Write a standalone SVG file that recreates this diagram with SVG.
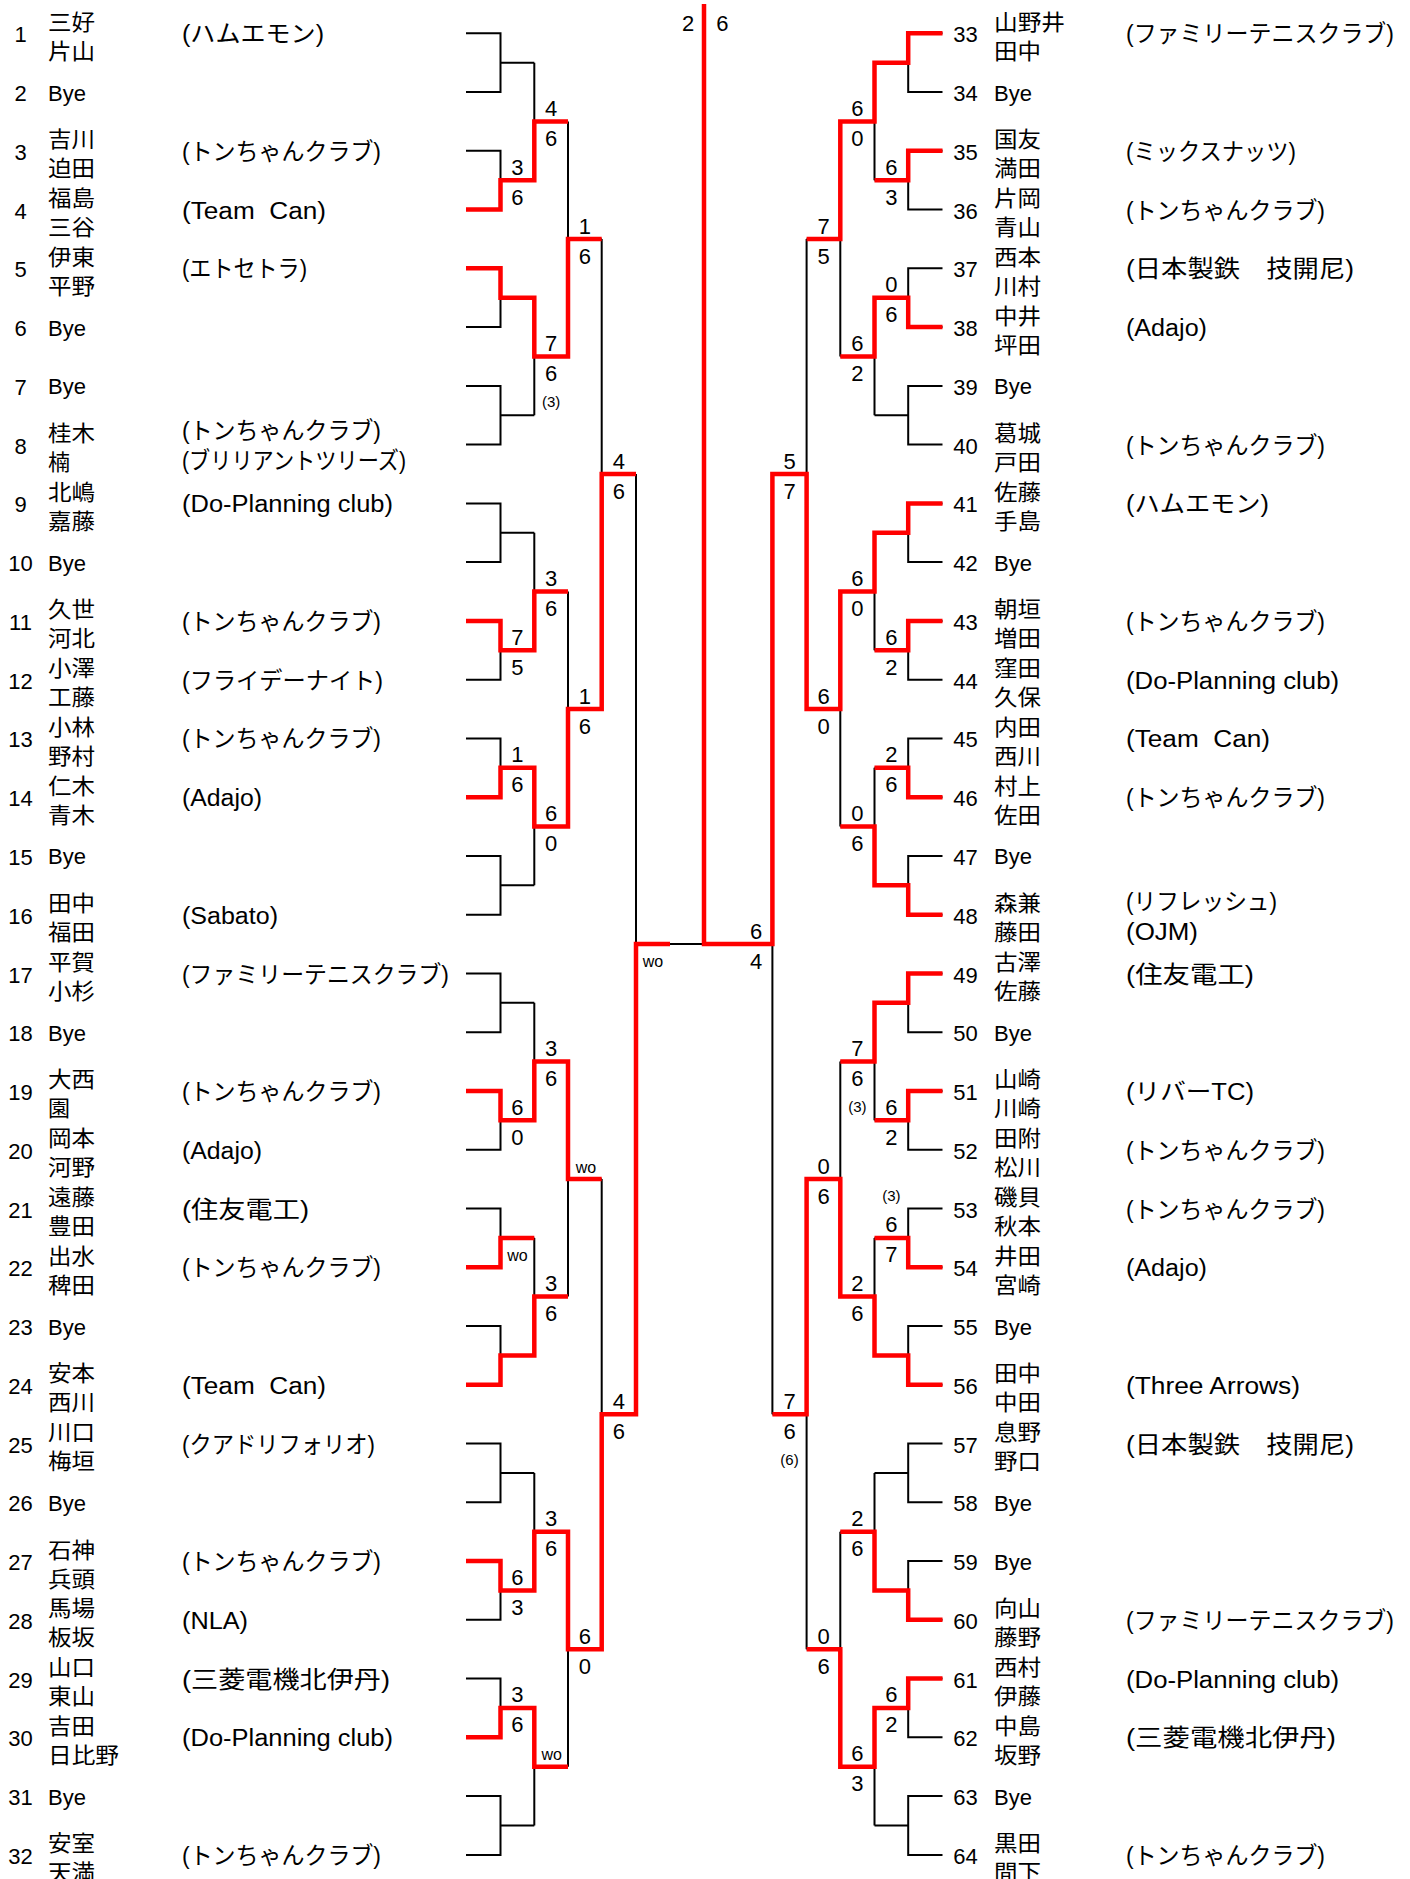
<svg xmlns="http://www.w3.org/2000/svg" width="1410" height="1879" viewBox="0 0 1410 1879">
<style>
.num{font-family:"Liberation Sans","Noto Sans CJK JP",sans-serif;font-size:22px;fill:#000}
.c{text-anchor:middle}
.nm{font-family:"Noto Sans CJK JP",sans-serif;font-size:22px;fill:#000}
.tm{font-family:"Liberation Sans","Noto Sans CJK JP",sans-serif;font-size:23.5px;fill:#000}
.sc{font-family:"Liberation Sans",sans-serif;font-size:22px;text-anchor:middle;fill:#000}
.sm{font-family:"Liberation Sans",sans-serif;font-size:15px;text-anchor:middle;fill:#000}
.wo{font-family:"Liberation Sans",sans-serif;font-size:16px;text-anchor:middle;fill:#000}
.bk{fill:none;stroke:#000;stroke-width:2}
.rd{fill:none;stroke:#ff0000;stroke-width:4.5;stroke-linejoin:miter}
</style>
<rect width="1410" height="1879" fill="#fff"/>
<g id="connectors">
<path class="bk" d="M466,33.3H500.5V92.1H466M500.5,62.7H534.3M466,150.8H500.5V209.6H466M500.5,180.2H534.3M466,268.3H500.5V327.1H466M500.5,297.7H534.3M466,385.9H500.5V444.6H466M500.5,415.2H534.3M466,503.4H500.5V562.1H466M500.5,532.8H534.3M466,620.9H500.5V679.7H466M500.5,650.3H534.3M466,738.4H500.5V797.2H466M500.5,767.8H534.3M466,855.9H500.5V914.7H466M500.5,885.3H534.3M466,973.5H500.5V1032.2H466M500.5,1002.8H534.3M466,1091H500.5V1149.7H466M500.5,1120.3H534.3M466,1208.5H500.5V1267.3H466M500.5,1237.9H534.3M466,1326H500.5V1384.8H466M500.5,1355.4H534.3M466,1443.5H500.5V1502.3H466M500.5,1472.9H534.3M466,1561.1H500.5V1619.8H466M500.5,1590.4H534.3M466,1678.6H500.5V1737.3H466M500.5,1707.9H534.3M466,1796.1H500.5V1854.9H466M500.5,1825.5H534.3"/>
<path class="bk" d="M534.3,62.7V180.2M534.3,121.4H568M534.3,297.7V415.2M534.3,356.5H568M534.3,532.8V650.3M534.3,591.5H568M534.3,767.8V885.3M534.3,826.6H568M534.3,1002.8V1120.3M534.3,1061.6H568M534.3,1237.9V1355.4M534.3,1296.6H568M534.3,1472.9V1590.4M534.3,1531.7H568M534.3,1707.9V1825.5M534.3,1766.7H568"/>
<path class="bk" d="M568,121.4V356.5M568,239H601.7M568,591.5V826.6M568,709H601.7M568,1061.6V1296.6M568,1179.1H601.7M568,1531.7V1766.7M568,1649.2H601.7M601.7,239V709M601.7,474H636M601.7,1179.1V1649.2M601.7,1414.2H636M636,474V1414.2M636,944.1H704"/>
<path class="bk" d="M942.5,33.3H908.2V92.1H942.5M908.2,62.7H874.5M942.5,150.8H908.2V209.6H942.5M908.2,180.2H874.5M942.5,268.3H908.2V327.1H942.5M908.2,297.7H874.5M942.5,385.9H908.2V444.6H942.5M908.2,415.2H874.5M942.5,503.4H908.2V562.1H942.5M908.2,532.8H874.5M942.5,620.9H908.2V679.7H942.5M908.2,650.3H874.5M942.5,738.4H908.2V797.2H942.5M908.2,767.8H874.5M942.5,855.9H908.2V914.7H942.5M908.2,885.3H874.5M942.5,973.5H908.2V1032.2H942.5M908.2,1002.8H874.5M942.5,1091H908.2V1149.7H942.5M908.2,1120.3H874.5M942.5,1208.5H908.2V1267.3H942.5M908.2,1237.9H874.5M942.5,1326H908.2V1384.8H942.5M908.2,1355.4H874.5M942.5,1443.5H908.2V1502.3H942.5M908.2,1472.9H874.5M942.5,1561.1H908.2V1619.8H942.5M908.2,1590.4H874.5M942.5,1678.6H908.2V1737.3H942.5M908.2,1707.9H874.5M942.5,1796.1H908.2V1854.9H942.5M908.2,1825.5H874.5"/>
<path class="bk" d="M874.5,62.7V180.2M874.5,121.4H840.3M874.5,297.7V415.2M874.5,356.5H840.3M874.5,532.8V650.3M874.5,591.5H840.3M874.5,767.8V885.3M874.5,826.6H840.3M874.5,1002.8V1120.3M874.5,1061.6H840.3M874.5,1237.9V1355.4M874.5,1296.6H840.3M874.5,1472.9V1590.4M874.5,1531.7H840.3M874.5,1707.9V1825.5M874.5,1766.7H840.3"/>
<path class="bk" d="M840.3,121.4V356.5M840.3,239H806.6M840.3,591.5V826.6M840.3,709H806.6M840.3,1061.6V1296.6M840.3,1179.1H806.6M840.3,1531.7V1766.7M840.3,1649.2H806.6M806.6,239V709M806.6,474H772.4M806.6,1179.1V1649.2M806.6,1414.2H772.4M772.4,474V1414.2M772.4,944.1H704"/>
<path class="rd" d="M466,209.6H500.5V180.2H534.3V121.4H568"/>
<path class="rd" d="M466,268.3H500.5V297.7H534.3V356.5H568V239H601.7"/>
<path class="rd" d="M466,620.9H500.5V650.3H534.3V591.5H568"/>
<path class="rd" d="M466,797.2H500.5V767.8H534.3V826.6H568V709H601.7V474H636"/>
<path class="rd" d="M466,1091H500.5V1120.3H534.3V1061.6H568V1179.1H601.7"/>
<path class="rd" d="M466,1267.3H500.5V1237.9H534.3"/>
<path class="rd" d="M466,1384.8H500.5V1355.4H534.3V1296.6H568"/>
<path class="rd" d="M466,1561.1H500.5V1590.4H534.3V1531.7H568V1649.2H601.7V1414.2H636V944.1H670"/>
<path class="rd" d="M466,1737.3H500.5V1707.9H534.3V1766.7H568"/>
<path class="rd" d="M942.5,33.3H908.2V62.7H874.5V121.4H840.3V239H806.6"/>
<path class="rd" d="M942.5,150.8H908.2V180.2H874.5"/>
<path class="rd" d="M942.5,327.1H908.2V297.7H874.5V356.5H840.3"/>
<path class="rd" d="M942.5,503.4H908.2V532.8H874.5V591.5H840.3V709H806.6V474H772.4V944.1H704V4"/>
<path class="rd" d="M942.5,620.9H908.2V650.3H874.5"/>
<path class="rd" d="M942.5,797.2H908.2V767.8H874.5"/>
<path class="rd" d="M942.5,914.7H908.2V885.3H874.5V826.6H840.3"/>
<path class="rd" d="M942.5,973.5H908.2V1002.8H874.5V1061.6H840.3"/>
<path class="rd" d="M942.5,1091H908.2V1120.3H874.5"/>
<path class="rd" d="M942.5,1267.3H908.2V1237.9H874.5"/>
<path class="rd" d="M942.5,1384.8H908.2V1355.4H874.5V1296.6H840.3V1179.1H806.6V1414.2H772.4"/>
<path class="rd" d="M942.5,1619.8H908.2V1590.4H874.5V1531.7H840.3"/>
<path class="rd" d="M942.5,1678.6H908.2V1707.9H874.5V1766.7H840.3V1649.2H806.6"/>
</g>
<g id="scores">
<text class="sc" x="688" y="30.5">2</text><text class="sc" x="722.4" y="30.5">6</text>
<text class="sc" x="517.4" y="174.7">3</text><text class="sc" x="517.4" y="204.7">6</text>
<text class="sc" x="517.4" y="644.8">7</text><text class="sc" x="517.4" y="674.8">5</text>
<text class="sc" x="517.4" y="762.3">1</text><text class="sc" x="517.4" y="792.3">6</text>
<text class="sc" x="517.4" y="1114.8">6</text><text class="sc" x="517.4" y="1144.8">0</text>
<text class="wo" x="517.4" y="1261">wo</text>
<text class="sc" x="517.4" y="1584.9">6</text><text class="sc" x="517.4" y="1614.9">3</text>
<text class="sc" x="517.4" y="1702.4">3</text><text class="sc" x="517.4" y="1732.4">6</text>
<text class="sc" x="551.2" y="115.9">4</text><text class="sc" x="551.2" y="145.9">6</text>
<text class="sc" x="551.2" y="351">7</text><text class="sc" x="551.2" y="381">6</text><text class="sm" x="551.2" y="407">(3)</text>
<text class="sc" x="551.2" y="586">3</text><text class="sc" x="551.2" y="616">6</text>
<text class="sc" x="551.2" y="821.1">6</text><text class="sc" x="551.2" y="851.1">0</text>
<text class="sc" x="551.2" y="1056.1">3</text><text class="sc" x="551.2" y="1086.1">6</text>
<text class="sc" x="551.2" y="1291.1">3</text><text class="sc" x="551.2" y="1321.1">6</text>
<text class="sc" x="551.2" y="1526.2">3</text><text class="sc" x="551.2" y="1556.2">6</text>
<text class="wo" x="551.7" y="1760">wo</text>
<text class="sc" x="584.9" y="233.5">1</text><text class="sc" x="584.9" y="263.5">6</text>
<text class="sc" x="584.9" y="703.5">1</text><text class="sc" x="584.9" y="733.5">6</text>
<text class="wo" x="586" y="1172.5">wo</text>
<text class="sc" x="584.9" y="1643.7">6</text><text class="sc" x="584.9" y="1673.7">0</text>
<text class="sc" x="618.9" y="468.5">4</text><text class="sc" x="618.9" y="498.5">6</text>
<text class="sc" x="618.9" y="1408.7">4</text><text class="sc" x="618.9" y="1438.7">6</text>
<text class="wo" x="653" y="967">wo</text>
<text class="sc" x="891.4" y="174.7">6</text><text class="sc" x="891.4" y="204.7">3</text>
<text class="sc" x="891.4" y="292.2">0</text><text class="sc" x="891.4" y="322.2">6</text>
<text class="sc" x="891.4" y="644.8">6</text><text class="sc" x="891.4" y="674.8">2</text>
<text class="sc" x="891.4" y="762.3">2</text><text class="sc" x="891.4" y="792.3">6</text>
<text class="sc" x="891.4" y="1114.8">6</text><text class="sc" x="891.4" y="1144.8">2</text>
<text class="sm" x="891.4" y="1200.5">(3)</text><text class="sc" x="891.4" y="1232.4">6</text><text class="sc" x="891.4" y="1262.4">7</text>
<text class="sc" x="891.4" y="1702.4">6</text><text class="sc" x="891.4" y="1732.4">2</text>
<text class="sc" x="857.4" y="115.9">6</text><text class="sc" x="857.4" y="145.9">0</text>
<text class="sc" x="857.4" y="351">6</text><text class="sc" x="857.4" y="381">2</text>
<text class="sc" x="857.4" y="586">6</text><text class="sc" x="857.4" y="616">0</text>
<text class="sc" x="857.4" y="821.1">0</text><text class="sc" x="857.4" y="851.1">6</text>
<text class="sc" x="857.4" y="1056.1">7</text><text class="sc" x="857.4" y="1086.1">6</text><text class="sm" x="857.4" y="1112">(3)</text>
<text class="sc" x="857.4" y="1291.1">2</text><text class="sc" x="857.4" y="1321.1">6</text>
<text class="sc" x="857.4" y="1526.2">2</text><text class="sc" x="857.4" y="1556.2">6</text>
<text class="sc" x="857.4" y="1761.2">6</text><text class="sc" x="857.4" y="1791.2">3</text>
<text class="sc" x="823.5" y="233.5">7</text><text class="sc" x="823.5" y="263.5">5</text>
<text class="sc" x="823.5" y="703.5">6</text><text class="sc" x="823.5" y="733.5">0</text>
<text class="sc" x="823.5" y="1173.6">0</text><text class="sc" x="823.5" y="1203.6">6</text>
<text class="sc" x="823.5" y="1643.7">0</text><text class="sc" x="823.5" y="1673.7">6</text>
<text class="sc" x="789.5" y="468.5">5</text><text class="sc" x="789.5" y="498.5">7</text>
<text class="sc" x="789.5" y="1408.7">7</text><text class="sc" x="789.5" y="1438.7">6</text><text class="sm" x="789.5" y="1464.5">(6)</text>
<text class="sc" x="756" y="938.6">6</text><text class="sc" x="756" y="968.6">4</text>
</g>
<g id="p1" transform="translate(0,33.3)"><text class="num c" x="20.5" y="9">1</text><text class="nm" x="48" y="-3.6" textLength="47" lengthAdjust="spacingAndGlyphs">三好</text><text class="nm" x="48" y="25.4" textLength="47" lengthAdjust="spacingAndGlyphs">片山</text><text class="tm" x="182" y="9" textLength="142" lengthAdjust="spacingAndGlyphs">(ハムエモン)</text></g>
<g id="p2" transform="translate(0,92.1)"><text class="num c" x="20.5" y="9">2</text><text class="num" x="48" y="8.5">Bye</text></g>
<g id="p3" transform="translate(0,150.8)"><text class="num c" x="20.5" y="9">3</text><text class="nm" x="48" y="-3.6" textLength="47" lengthAdjust="spacingAndGlyphs">吉川</text><text class="nm" x="48" y="25.4" textLength="47" lengthAdjust="spacingAndGlyphs">迫田</text><text class="tm" x="182" y="9" textLength="199" lengthAdjust="spacingAndGlyphs">(トンちゃんクラブ)</text></g>
<g id="p4" transform="translate(0,209.6)"><text class="num c" x="20.5" y="9">4</text><text class="nm" x="48" y="-3.6" textLength="47" lengthAdjust="spacingAndGlyphs">福島</text><text class="nm" x="48" y="25.4" textLength="47" lengthAdjust="spacingAndGlyphs">三谷</text><text class="tm" x="182" y="9" textLength="144" lengthAdjust="spacingAndGlyphs">(Team&#160;&#160;Can)</text></g>
<g id="p5" transform="translate(0,268.3)"><text class="num c" x="20.5" y="9">5</text><text class="nm" x="48" y="-3.6" textLength="47" lengthAdjust="spacingAndGlyphs">伊東</text><text class="nm" x="48" y="25.4" textLength="47" lengthAdjust="spacingAndGlyphs">平野</text><text class="tm" x="182" y="9" textLength="125" lengthAdjust="spacingAndGlyphs">(エトセトラ)</text></g>
<g id="p6" transform="translate(0,327.1)"><text class="num c" x="20.5" y="9">6</text><text class="num" x="48" y="8.5">Bye</text></g>
<g id="p7" transform="translate(0,385.9)"><text class="num c" x="20.5" y="9">7</text><text class="num" x="48" y="8.5">Bye</text></g>
<g id="p8" transform="translate(0,444.6)"><text class="num c" x="20.5" y="9">8</text><text class="nm" x="48" y="-3.6" textLength="47" lengthAdjust="spacingAndGlyphs">桂木</text><text class="nm" x="48" y="25.4">楠</text><text class="tm" x="182" y="-6" textLength="199" lengthAdjust="spacingAndGlyphs">(トンちゃんクラブ)</text><text class="tm" x="182" y="24" textLength="224" lengthAdjust="spacingAndGlyphs">(ブリリアントツリーズ)</text></g>
<g id="p9" transform="translate(0,503.4)"><text class="num c" x="20.5" y="9">9</text><text class="nm" x="48" y="-3.6" textLength="47" lengthAdjust="spacingAndGlyphs">北嶋</text><text class="nm" x="48" y="25.4" textLength="47" lengthAdjust="spacingAndGlyphs">嘉藤</text><text class="tm" x="182" y="9" textLength="211" lengthAdjust="spacingAndGlyphs">(Do-Planning club)</text></g>
<g id="p10" transform="translate(0,562.1)"><text class="num c" x="20.5" y="9">10</text><text class="num" x="48" y="8.5">Bye</text></g>
<g id="p11" transform="translate(0,620.9)"><text class="num c" x="20.5" y="9">11</text><text class="nm" x="48" y="-3.6" textLength="47" lengthAdjust="spacingAndGlyphs">久世</text><text class="nm" x="48" y="25.4" textLength="47" lengthAdjust="spacingAndGlyphs">河北</text><text class="tm" x="182" y="9" textLength="199" lengthAdjust="spacingAndGlyphs">(トンちゃんクラブ)</text></g>
<g id="p12" transform="translate(0,679.7)"><text class="num c" x="20.5" y="9">12</text><text class="nm" x="48" y="-3.6" textLength="47" lengthAdjust="spacingAndGlyphs">小澤</text><text class="nm" x="48" y="25.4" textLength="47" lengthAdjust="spacingAndGlyphs">工藤</text><text class="tm" x="182" y="9" textLength="201" lengthAdjust="spacingAndGlyphs">(フライデーナイト)</text></g>
<g id="p13" transform="translate(0,738.4)"><text class="num c" x="20.5" y="9">13</text><text class="nm" x="48" y="-3.6" textLength="47" lengthAdjust="spacingAndGlyphs">小林</text><text class="nm" x="48" y="25.4" textLength="47" lengthAdjust="spacingAndGlyphs">野村</text><text class="tm" x="182" y="9" textLength="199" lengthAdjust="spacingAndGlyphs">(トンちゃんクラブ)</text></g>
<g id="p14" transform="translate(0,797.2)"><text class="num c" x="20.5" y="9">14</text><text class="nm" x="48" y="-3.6" textLength="47" lengthAdjust="spacingAndGlyphs">仁木</text><text class="nm" x="48" y="25.4" textLength="47" lengthAdjust="spacingAndGlyphs">青木</text><text class="tm" x="182" y="9" textLength="80" lengthAdjust="spacingAndGlyphs">(Adajo)</text></g>
<g id="p15" transform="translate(0,855.9)"><text class="num c" x="20.5" y="9">15</text><text class="num" x="48" y="8.5">Bye</text></g>
<g id="p16" transform="translate(0,914.7)"><text class="num c" x="20.5" y="9">16</text><text class="nm" x="48" y="-3.6" textLength="47" lengthAdjust="spacingAndGlyphs">田中</text><text class="nm" x="48" y="25.4" textLength="47" lengthAdjust="spacingAndGlyphs">福田</text><text class="tm" x="182" y="9" textLength="96" lengthAdjust="spacingAndGlyphs">(Sabato)</text></g>
<g id="p17" transform="translate(0,973.5)"><text class="num c" x="20.5" y="9">17</text><text class="nm" x="48" y="-3.6" textLength="47" lengthAdjust="spacingAndGlyphs">平賀</text><text class="nm" x="48" y="25.4" textLength="47" lengthAdjust="spacingAndGlyphs">小杉</text><text class="tm" x="182" y="9" textLength="267" lengthAdjust="spacingAndGlyphs">(ファミリーテニスクラブ)</text></g>
<g id="p18" transform="translate(0,1032.2)"><text class="num c" x="20.5" y="9">18</text><text class="num" x="48" y="8.5">Bye</text></g>
<g id="p19" transform="translate(0,1091)"><text class="num c" x="20.5" y="9">19</text><text class="nm" x="48" y="-3.6" textLength="47" lengthAdjust="spacingAndGlyphs">大西</text><text class="nm" x="48" y="25.4">園</text><text class="tm" x="182" y="9" textLength="199" lengthAdjust="spacingAndGlyphs">(トンちゃんクラブ)</text></g>
<g id="p20" transform="translate(0,1149.7)"><text class="num c" x="20.5" y="9">20</text><text class="nm" x="48" y="-3.6" textLength="47" lengthAdjust="spacingAndGlyphs">岡本</text><text class="nm" x="48" y="25.4" textLength="47" lengthAdjust="spacingAndGlyphs">河野</text><text class="tm" x="182" y="9" textLength="80" lengthAdjust="spacingAndGlyphs">(Adajo)</text></g>
<g id="p21" transform="translate(0,1208.5)"><text class="num c" x="20.5" y="9">21</text><text class="nm" x="48" y="-3.6" textLength="47" lengthAdjust="spacingAndGlyphs">遠藤</text><text class="nm" x="48" y="25.4" textLength="47" lengthAdjust="spacingAndGlyphs">豊田</text><text class="tm" x="182" y="9" textLength="127" lengthAdjust="spacingAndGlyphs">(住友電工)</text></g>
<g id="p22" transform="translate(0,1267.3)"><text class="num c" x="20.5" y="9">22</text><text class="nm" x="48" y="-3.6" textLength="47" lengthAdjust="spacingAndGlyphs">出水</text><text class="nm" x="48" y="25.4" textLength="47" lengthAdjust="spacingAndGlyphs">稗田</text><text class="tm" x="182" y="9" textLength="199" lengthAdjust="spacingAndGlyphs">(トンちゃんクラブ)</text></g>
<g id="p23" transform="translate(0,1326)"><text class="num c" x="20.5" y="9">23</text><text class="num" x="48" y="8.5">Bye</text></g>
<g id="p24" transform="translate(0,1384.8)"><text class="num c" x="20.5" y="9">24</text><text class="nm" x="48" y="-3.6" textLength="47" lengthAdjust="spacingAndGlyphs">安本</text><text class="nm" x="48" y="25.4" textLength="47" lengthAdjust="spacingAndGlyphs">西川</text><text class="tm" x="182" y="9" textLength="144" lengthAdjust="spacingAndGlyphs">(Team&#160;&#160;Can)</text></g>
<g id="p25" transform="translate(0,1443.5)"><text class="num c" x="20.5" y="9">25</text><text class="nm" x="48" y="-3.6" textLength="47" lengthAdjust="spacingAndGlyphs">川口</text><text class="nm" x="48" y="25.4" textLength="47" lengthAdjust="spacingAndGlyphs">梅垣</text><text class="tm" x="182" y="9" textLength="193" lengthAdjust="spacingAndGlyphs">(クアドリフォリオ)</text></g>
<g id="p26" transform="translate(0,1502.3)"><text class="num c" x="20.5" y="9">26</text><text class="num" x="48" y="8.5">Bye</text></g>
<g id="p27" transform="translate(0,1561.1)"><text class="num c" x="20.5" y="9">27</text><text class="nm" x="48" y="-3.6" textLength="47" lengthAdjust="spacingAndGlyphs">石神</text><text class="nm" x="48" y="25.4" textLength="47" lengthAdjust="spacingAndGlyphs">兵頭</text><text class="tm" x="182" y="9" textLength="199" lengthAdjust="spacingAndGlyphs">(トンちゃんクラブ)</text></g>
<g id="p28" transform="translate(0,1619.8)"><text class="num c" x="20.5" y="9">28</text><text class="nm" x="48" y="-3.6" textLength="47" lengthAdjust="spacingAndGlyphs">馬場</text><text class="nm" x="48" y="25.4" textLength="47" lengthAdjust="spacingAndGlyphs">板坂</text><text class="tm" x="182" y="9" textLength="66" lengthAdjust="spacingAndGlyphs">(NLA)</text></g>
<g id="p29" transform="translate(0,1678.6)"><text class="num c" x="20.5" y="9">29</text><text class="nm" x="48" y="-3.6" textLength="47" lengthAdjust="spacingAndGlyphs">山口</text><text class="nm" x="48" y="25.4" textLength="47" lengthAdjust="spacingAndGlyphs">東山</text><text class="tm" x="182" y="9" textLength="208" lengthAdjust="spacingAndGlyphs">(三菱電機北伊丹)</text></g>
<g id="p30" transform="translate(0,1737.3)"><text class="num c" x="20.5" y="9">30</text><text class="nm" x="48" y="-3.6" textLength="47" lengthAdjust="spacingAndGlyphs">吉田</text><text class="nm" x="48" y="25.4" textLength="71" lengthAdjust="spacingAndGlyphs">日比野</text><text class="tm" x="182" y="9" textLength="211" lengthAdjust="spacingAndGlyphs">(Do-Planning club)</text></g>
<g id="p31" transform="translate(0,1796.1)"><text class="num c" x="20.5" y="9">31</text><text class="num" x="48" y="8.5">Bye</text></g>
<g id="p32" transform="translate(0,1854.9)"><text class="num c" x="20.5" y="9">32</text><text class="nm" x="48" y="-3.6" textLength="47" lengthAdjust="spacingAndGlyphs">安室</text><text class="nm" x="48" y="25.4" textLength="47" lengthAdjust="spacingAndGlyphs">天満</text><text class="tm" x="182" y="9" textLength="199" lengthAdjust="spacingAndGlyphs">(トンちゃんクラブ)</text></g>
<g id="p33" transform="translate(0,33.3)"><text class="num c" x="965.4" y="9">33</text><text class="nm" x="994" y="-3.6" textLength="71" lengthAdjust="spacingAndGlyphs">山野井</text><text class="nm" x="994" y="25.4" textLength="47" lengthAdjust="spacingAndGlyphs">田中</text><text class="tm" x="1126" y="9" textLength="268" lengthAdjust="spacingAndGlyphs">(ファミリーテニスクラブ)</text></g>
<g id="p34" transform="translate(0,92.1)"><text class="num c" x="965.4" y="9">34</text><text class="num" x="994" y="8.5">Bye</text></g>
<g id="p35" transform="translate(0,150.8)"><text class="num c" x="965.4" y="9">35</text><text class="nm" x="994" y="-3.6" textLength="47" lengthAdjust="spacingAndGlyphs">国友</text><text class="nm" x="994" y="25.4" textLength="47" lengthAdjust="spacingAndGlyphs">満田</text><text class="tm" x="1126" y="9" textLength="170" lengthAdjust="spacingAndGlyphs">(ミックスナッツ)</text></g>
<g id="p36" transform="translate(0,209.6)"><text class="num c" x="965.4" y="9">36</text><text class="nm" x="994" y="-3.6" textLength="47" lengthAdjust="spacingAndGlyphs">片岡</text><text class="nm" x="994" y="25.4" textLength="47" lengthAdjust="spacingAndGlyphs">青山</text><text class="tm" x="1126" y="9" textLength="199" lengthAdjust="spacingAndGlyphs">(トンちゃんクラブ)</text></g>
<g id="p37" transform="translate(0,268.3)"><text class="num c" x="965.4" y="9">37</text><text class="nm" x="994" y="-3.6" textLength="47" lengthAdjust="spacingAndGlyphs">西本</text><text class="nm" x="994" y="25.4" textLength="47" lengthAdjust="spacingAndGlyphs">川村</text><text class="tm" x="1126" y="9" textLength="228" lengthAdjust="spacingAndGlyphs">(日本製鉄　技開尼)</text></g>
<g id="p38" transform="translate(0,327.1)"><text class="num c" x="965.4" y="9">38</text><text class="nm" x="994" y="-3.6" textLength="47" lengthAdjust="spacingAndGlyphs">中井</text><text class="nm" x="994" y="25.4" textLength="47" lengthAdjust="spacingAndGlyphs">坪田</text><text class="tm" x="1126" y="9" textLength="81" lengthAdjust="spacingAndGlyphs">(Adajo)</text></g>
<g id="p39" transform="translate(0,385.9)"><text class="num c" x="965.4" y="9">39</text><text class="num" x="994" y="8.5">Bye</text></g>
<g id="p40" transform="translate(0,444.6)"><text class="num c" x="965.4" y="9">40</text><text class="nm" x="994" y="-3.6" textLength="47" lengthAdjust="spacingAndGlyphs">葛城</text><text class="nm" x="994" y="25.4" textLength="47" lengthAdjust="spacingAndGlyphs">戸田</text><text class="tm" x="1126" y="9" textLength="199" lengthAdjust="spacingAndGlyphs">(トンちゃんクラブ)</text></g>
<g id="p41" transform="translate(0,503.4)"><text class="num c" x="965.4" y="9">41</text><text class="nm" x="994" y="-3.6" textLength="47" lengthAdjust="spacingAndGlyphs">佐藤</text><text class="nm" x="994" y="25.4" textLength="47" lengthAdjust="spacingAndGlyphs">手島</text><text class="tm" x="1126" y="9" textLength="143" lengthAdjust="spacingAndGlyphs">(ハムエモン)</text></g>
<g id="p42" transform="translate(0,562.1)"><text class="num c" x="965.4" y="9">42</text><text class="num" x="994" y="8.5">Bye</text></g>
<g id="p43" transform="translate(0,620.9)"><text class="num c" x="965.4" y="9">43</text><text class="nm" x="994" y="-3.6" textLength="47" lengthAdjust="spacingAndGlyphs">朝垣</text><text class="nm" x="994" y="25.4" textLength="47" lengthAdjust="spacingAndGlyphs">増田</text><text class="tm" x="1126" y="9" textLength="199" lengthAdjust="spacingAndGlyphs">(トンちゃんクラブ)</text></g>
<g id="p44" transform="translate(0,679.7)"><text class="num c" x="965.4" y="9">44</text><text class="nm" x="994" y="-3.6" textLength="47" lengthAdjust="spacingAndGlyphs">窪田</text><text class="nm" x="994" y="25.4" textLength="47" lengthAdjust="spacingAndGlyphs">久保</text><text class="tm" x="1126" y="9" textLength="213" lengthAdjust="spacingAndGlyphs">(Do-Planning club)</text></g>
<g id="p45" transform="translate(0,738.4)"><text class="num c" x="965.4" y="9">45</text><text class="nm" x="994" y="-3.6" textLength="47" lengthAdjust="spacingAndGlyphs">内田</text><text class="nm" x="994" y="25.4" textLength="47" lengthAdjust="spacingAndGlyphs">西川</text><text class="tm" x="1126" y="9" textLength="144" lengthAdjust="spacingAndGlyphs">(Team&#160;&#160;Can)</text></g>
<g id="p46" transform="translate(0,797.2)"><text class="num c" x="965.4" y="9">46</text><text class="nm" x="994" y="-3.6" textLength="47" lengthAdjust="spacingAndGlyphs">村上</text><text class="nm" x="994" y="25.4" textLength="47" lengthAdjust="spacingAndGlyphs">佐田</text><text class="tm" x="1126" y="9" textLength="199" lengthAdjust="spacingAndGlyphs">(トンちゃんクラブ)</text></g>
<g id="p47" transform="translate(0,855.9)"><text class="num c" x="965.4" y="9">47</text><text class="num" x="994" y="8.5">Bye</text></g>
<g id="p48" transform="translate(0,914.7)"><text class="num c" x="965.4" y="9">48</text><text class="nm" x="994" y="-3.6" textLength="47" lengthAdjust="spacingAndGlyphs">森兼</text><text class="nm" x="994" y="25.4" textLength="47" lengthAdjust="spacingAndGlyphs">藤田</text><text class="tm" x="1126" y="-4.3" textLength="151" lengthAdjust="spacingAndGlyphs">(リフレッシュ)</text><text class="tm" x="1126" y="25.3" textLength="72" lengthAdjust="spacingAndGlyphs">(OJM)</text></g>
<g id="p49" transform="translate(0,973.5)"><text class="num c" x="965.4" y="9">49</text><text class="nm" x="994" y="-3.6" textLength="47" lengthAdjust="spacingAndGlyphs">古澤</text><text class="nm" x="994" y="25.4" textLength="47" lengthAdjust="spacingAndGlyphs">佐藤</text><text class="tm" x="1126" y="9" textLength="128" lengthAdjust="spacingAndGlyphs">(住友電工)</text></g>
<g id="p50" transform="translate(0,1032.2)"><text class="num c" x="965.4" y="9">50</text><text class="num" x="994" y="8.5">Bye</text></g>
<g id="p51" transform="translate(0,1091)"><text class="num c" x="965.4" y="9">51</text><text class="nm" x="994" y="-3.6" textLength="47" lengthAdjust="spacingAndGlyphs">山崎</text><text class="nm" x="994" y="25.4" textLength="47" lengthAdjust="spacingAndGlyphs">川崎</text><text class="tm" x="1126" y="9" textLength="128" lengthAdjust="spacingAndGlyphs">(リバーTC)</text></g>
<g id="p52" transform="translate(0,1149.7)"><text class="num c" x="965.4" y="9">52</text><text class="nm" x="994" y="-3.6" textLength="47" lengthAdjust="spacingAndGlyphs">田附</text><text class="nm" x="994" y="25.4" textLength="47" lengthAdjust="spacingAndGlyphs">松川</text><text class="tm" x="1126" y="9" textLength="199" lengthAdjust="spacingAndGlyphs">(トンちゃんクラブ)</text></g>
<g id="p53" transform="translate(0,1208.5)"><text class="num c" x="965.4" y="9">53</text><text class="nm" x="994" y="-3.6" textLength="47" lengthAdjust="spacingAndGlyphs">磯貝</text><text class="nm" x="994" y="25.4" textLength="47" lengthAdjust="spacingAndGlyphs">秋本</text><text class="tm" x="1126" y="9" textLength="199" lengthAdjust="spacingAndGlyphs">(トンちゃんクラブ)</text></g>
<g id="p54" transform="translate(0,1267.3)"><text class="num c" x="965.4" y="9">54</text><text class="nm" x="994" y="-3.6" textLength="47" lengthAdjust="spacingAndGlyphs">井田</text><text class="nm" x="994" y="25.4" textLength="47" lengthAdjust="spacingAndGlyphs">宮崎</text><text class="tm" x="1126" y="9" textLength="81" lengthAdjust="spacingAndGlyphs">(Adajo)</text></g>
<g id="p55" transform="translate(0,1326)"><text class="num c" x="965.4" y="9">55</text><text class="num" x="994" y="8.5">Bye</text></g>
<g id="p56" transform="translate(0,1384.8)"><text class="num c" x="965.4" y="9">56</text><text class="nm" x="994" y="-3.6" textLength="47" lengthAdjust="spacingAndGlyphs">田中</text><text class="nm" x="994" y="25.4" textLength="47" lengthAdjust="spacingAndGlyphs">中田</text><text class="tm" x="1126" y="9" textLength="174" lengthAdjust="spacingAndGlyphs">(Three Arrows)</text></g>
<g id="p57" transform="translate(0,1443.5)"><text class="num c" x="965.4" y="9">57</text><text class="nm" x="994" y="-3.6" textLength="47" lengthAdjust="spacingAndGlyphs">息野</text><text class="nm" x="994" y="25.4" textLength="47" lengthAdjust="spacingAndGlyphs">野口</text><text class="tm" x="1126" y="9" textLength="228" lengthAdjust="spacingAndGlyphs">(日本製鉄　技開尼)</text></g>
<g id="p58" transform="translate(0,1502.3)"><text class="num c" x="965.4" y="9">58</text><text class="num" x="994" y="8.5">Bye</text></g>
<g id="p59" transform="translate(0,1561.1)"><text class="num c" x="965.4" y="9">59</text><text class="num" x="994" y="8.5">Bye</text></g>
<g id="p60" transform="translate(0,1619.8)"><text class="num c" x="965.4" y="9">60</text><text class="nm" x="994" y="-3.6" textLength="47" lengthAdjust="spacingAndGlyphs">向山</text><text class="nm" x="994" y="25.4" textLength="47" lengthAdjust="spacingAndGlyphs">藤野</text><text class="tm" x="1126" y="9" textLength="268" lengthAdjust="spacingAndGlyphs">(ファミリーテニスクラブ)</text></g>
<g id="p61" transform="translate(0,1678.6)"><text class="num c" x="965.4" y="9">61</text><text class="nm" x="994" y="-3.6" textLength="47" lengthAdjust="spacingAndGlyphs">西村</text><text class="nm" x="994" y="25.4" textLength="47" lengthAdjust="spacingAndGlyphs">伊藤</text><text class="tm" x="1126" y="9" textLength="213" lengthAdjust="spacingAndGlyphs">(Do-Planning club)</text></g>
<g id="p62" transform="translate(0,1737.3)"><text class="num c" x="965.4" y="9">62</text><text class="nm" x="994" y="-3.6" textLength="47" lengthAdjust="spacingAndGlyphs">中島</text><text class="nm" x="994" y="25.4" textLength="47" lengthAdjust="spacingAndGlyphs">坂野</text><text class="tm" x="1126" y="9" textLength="210" lengthAdjust="spacingAndGlyphs">(三菱電機北伊丹)</text></g>
<g id="p63" transform="translate(0,1796.1)"><text class="num c" x="965.4" y="9">63</text><text class="num" x="994" y="8.5">Bye</text></g>
<g id="p64" transform="translate(0,1854.9)"><text class="num c" x="965.4" y="9">64</text><text class="nm" x="994" y="-3.6" textLength="47" lengthAdjust="spacingAndGlyphs">黒田</text><text class="nm" x="994" y="25.4" textLength="47" lengthAdjust="spacingAndGlyphs">間下</text><text class="tm" x="1126" y="9" textLength="199" lengthAdjust="spacingAndGlyphs">(トンちゃんクラブ)</text></g>
</svg>
